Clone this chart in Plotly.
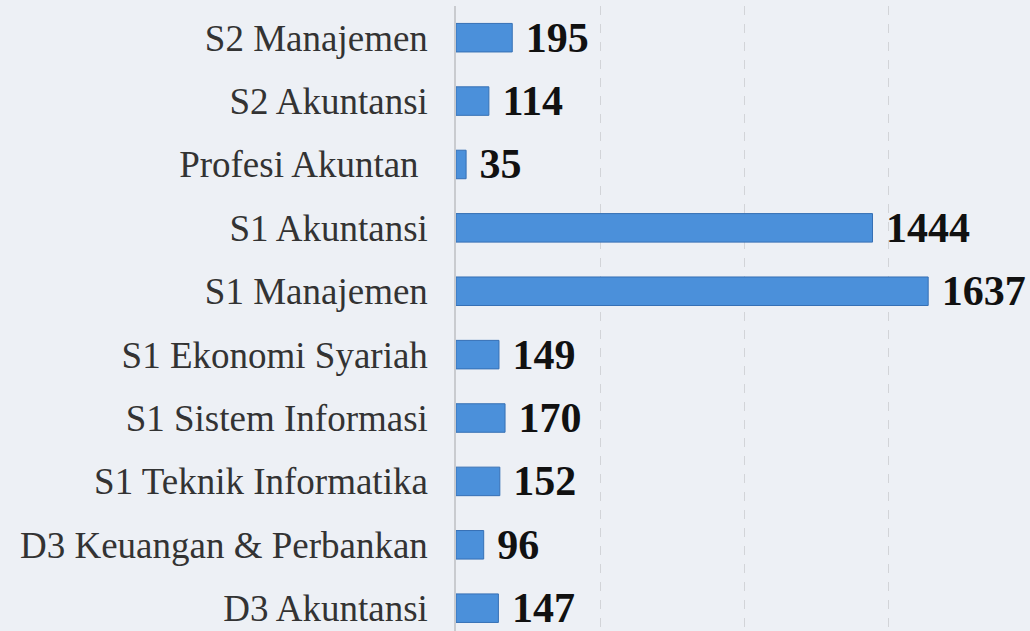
import plotly.graph_objects as go

categories = [
    "S2 Manajemen",
    "S2 Akuntansi",
    "Profesi Akuntan ",
    "S1 Akuntansi",
    "S1 Manajemen",
    "S1 Ekonomi Syariah",
    "S1 Sistem Informasi",
    "S1 Teknik Informatika",
    "D3 Keuangan & Perbankan",
    "D3 Akuntansi",
]
values = [195, 114, 35, 1444, 1637, 149, 170, 152, 96, 147]
grid_ticks = [0, 500, 1000, 1500]

fig = go.Figure()
fig.add_trace(go.Bar(
    y=categories,
    x=values,
    orientation="h",
    width=0.45,
    marker=dict(color="#4b90da", line=dict(color="#3670b5", width=1)),
    text=values,
    texttemplate="\u00a0%{x}",
    textposition="outside",
    constraintext="none",
    cliponaxis=False,
    textfont=dict(family="Liberation Serif", size=42, color="#111111", weight="bold"),
    hoverinfo="skip",
))

fig.update_layout(
    width=1030,
    height=631,
    margin=dict(l=456, r=0, t=6, b=0),
    paper_bgcolor="#edf0f5",
    plot_bgcolor="rgba(0,0,0,0)",
    showlegend=False,
    font=dict(family="Liberation Serif"),
    xaxis=dict(
        range=[0, 1990],
        tickvals=grid_ticks,
        showticklabels=False,
        showgrid=True,
        gridcolor="#d2d4d8",
        griddash="dash",
        gridwidth=1,
        zeroline=False,
        showline=False,
    ),
    yaxis=dict(
        type="category",
        categoryorder="array",
        categoryarray=categories,
        range=[9.36, -0.5],
        showgrid=False,
        showline=True,
        linecolor="#c9cbcf",
        linewidth=1.5,
        ticks="",
        ticklabelstandoff=19,
        tickfont=dict(family="Liberation Serif", size=37, color="#333333"),
    ),
)

fig.write_html(
    "out.html",
    config={"displayModeBar": False},
    post_script="document.body.style.margin='0';document.body.style.background='#edf0f5';",
)
